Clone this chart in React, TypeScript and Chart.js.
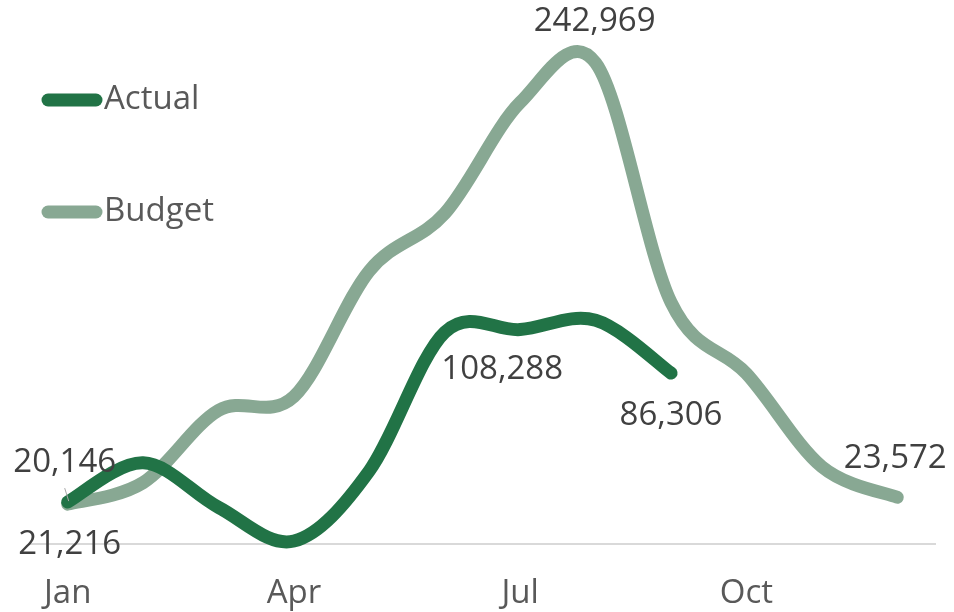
import React, { useEffect, useRef } from "react";
import { Chart, registerables } from "chart.js";

Chart.register(...registerables);

// ---- data ----
const months = ["Jan", "Feb", "Mar", "Apr", "May", "Jun", "Jul", "Aug", "Sep", "Oct", "Nov", "Dec"];
const tickLabels = ["Jan", "Apr", "Jul", "Oct"];
const seriesNames = ["Actual", "Budget"];
const actualValues = [21216, 41000, 18500, 1500, 37000, 107000, 108288, 113000, 86306];
const budgetValues = [20146, 31000, 67500, 74500, 138000, 167000, 223000, 242969, 122000, 86000, 39000, 23572];
const yMin = 0;
const yMax = 250000;

// labelled points: [dataset index, point index]
const labelledPoints: [number, number][] = [
  [1, 0],
  [0, 0],
  [0, 6],
  [0, 8],
  [1, 7],
  [1, 11],
];

// ---- styles ----
const FONT = "'Open Sans', 'Noto Sans', sans-serif";
const FONT_SIZE = 33;
const seriesColors = ["#217346", "#88A893"];
const TEXT_COLOR = "#595959";
const LABEL_COLOR = "#404040";
const labelOffsets: [number, number][] = [
  [-3, -42],
  [2, 43],
  [-18, 40],
  [0, 42],
  [-1, -41],
  [-2, -39],
];

// Excel-like uniform smoothing: control points at P +/- (Pnext - Pprev) / 6
const smoothPlugin = {
  id: "excelSmooth",
  beforeDatasetsDraw(chart: any) {
    chart.data.datasets.forEach((_ds: any, di: number) => {
      const meta = chart.getDatasetMeta(di);
      const line = meta.dataset;
      const pts = meta.data;
      if (!line || !pts || pts.length < 2) return;
      line.updateControlPoints(chart.chartArea, "x");
      const n = pts.length;
      for (let i = 0; i < n; i++) {
        const p = pts[i];
        const prev = pts[Math.max(i - 1, 0)];
        const next = pts[Math.min(i + 1, n - 1)];
        const tx = (next.x - prev.x) / 6;
        const ty = (next.y - prev.y) / 6;
        p.cp1x = p.x - tx;
        p.cp1y = p.y - ty;
        p.cp2x = p.x + tx;
        p.cp2y = p.y + ty;
      }
      line._path = undefined;
    });
  },
};

const labelPlugin = {
  id: "valueLabels",
  afterDatasetsDraw(chart: any) {
    const ctx = chart.ctx;
    ctx.save();
    ctx.font = `${FONT_SIZE}px ${FONT}`;
    ctx.fillStyle = LABEL_COLOR;
    ctx.textAlign = "center";
    ctx.textBaseline = "middle";
    labelledPoints.forEach(([ds, i], k) => {
      const el = chart.getDatasetMeta(ds).data[i];
      const v = chart.data.datasets[ds].data[i] as number;
      const [dx, dy] = labelOffsets[k];
      ctx.fillText(v.toLocaleString("en-US"), el.x + dx, el.y + dy);
    });
    // small leader line for first budget label
    const first = chart.getDatasetMeta(1).data[0];
    ctx.strokeStyle = "#a6a6a6";
    ctx.lineWidth = 1;
    ctx.beginPath();
    ctx.moveTo(first.x - 3, first.y - 16);
    ctx.lineTo(first.x + 1, first.y - 3);
    ctx.stroke();
    ctx.restore();
  },
};

const legendPlugin = {
  id: "customLegend",
  afterDraw(chart: any) {
    const ctx = chart.ctx;
    ctx.save();
    chart.data.datasets.forEach((ds: any, i: number) => {
      const y = 100 + i * 112;
      ctx.strokeStyle = ds.borderColor;
      ctx.lineWidth = 13;
      ctx.lineCap = "round";
      ctx.beginPath();
      ctx.moveTo(48, y);
      ctx.lineTo(96, y);
      ctx.stroke();
      ctx.font = `${FONT_SIZE}px ${FONT}`;
      ctx.fillStyle = TEXT_COLOR;
      ctx.textAlign = "left";
      ctx.textBaseline = "middle";
      ctx.fillText(ds.label, 104, y);
    });
    ctx.restore();
  },
};

export default function App() {
  const ref = useRef<HTMLCanvasElement | null>(null);

  useEffect(() => {
    if (!ref.current) return;
    const chart = new Chart(ref.current, {
      type: "line",
      data: {
        labels: months,
        datasets: [
          {
            label: seriesNames[0],
            data: actualValues,
            borderColor: seriesColors[0],
            backgroundColor: seriesColors[0],
            borderWidth: 13,
            borderCapStyle: "round",
            borderJoinStyle: "round",
            pointRadius: 0,
            tension: 0.4,
            clip: false,
          },
          {
            label: seriesNames[1],
            data: budgetValues,
            borderColor: seriesColors[1],
            backgroundColor: seriesColors[1],
            borderWidth: 13,
            borderCapStyle: "round",
            borderJoinStyle: "round",
            pointRadius: 0,
            tension: 0.4,
            clip: false,
          },
        ],
      },
      options: {
        animation: false,
        responsive: true,
        maintainAspectRatio: false,
        layout: { padding: { left: 30, right: 19, top: 49, bottom: 0 } },
        plugins: {
          legend: { display: false },
          tooltip: { enabled: false },
        },
        scales: {
          x: {
            offset: true,
            grid: { display: false, drawTicks: false },
            border: { display: true, color: "#d9d9d9", width: 2 },
            afterFit: (scale: any) => {
              scale.height = 68;
            },
            ticks: {
              autoSkip: false,
              maxRotation: 0,
              padding: 30,
              color: TEXT_COLOR,
              font: { family: FONT, size: FONT_SIZE },
              callback: (_v: any, idx: number) =>
                tickLabels.includes(months[idx]) ? months[idx] : "",
            },
          },
          y: {
            display: false,
            min: yMin,
            max: yMax,
          },
        },
      },
      plugins: [smoothPlugin, labelPlugin, legendPlugin],
    });
    return () => chart.destroy();
  }, []);

  return (
    <div style={{ position: "absolute", left: 0, top: 0, width: 954, height: 612, background: "#fff" }}>
      <canvas ref={ref} />
    </div>
  );
}
